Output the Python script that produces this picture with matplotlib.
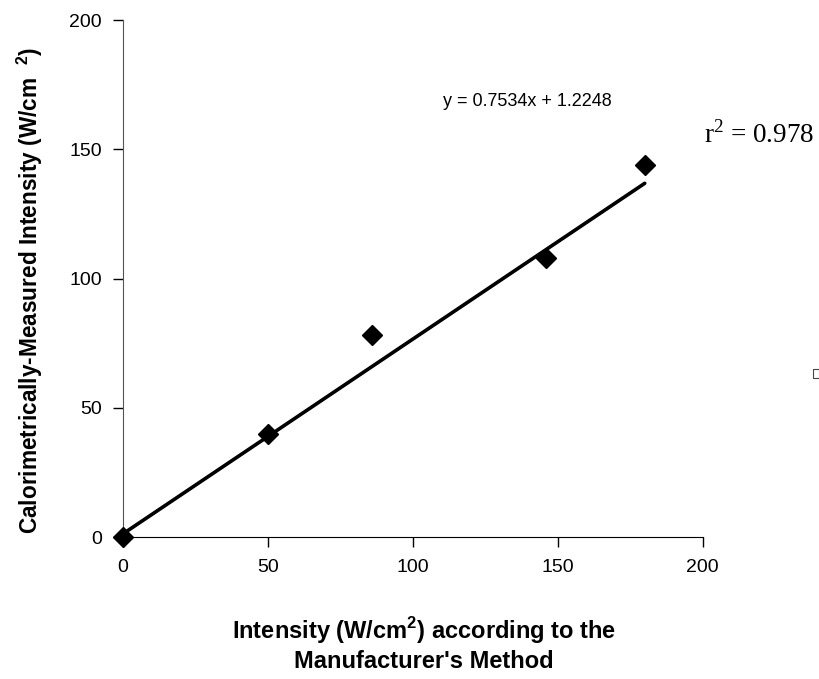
import matplotlib
matplotlib.use("Agg")
import matplotlib.pyplot as plt
import numpy as np
from matplotlib.patches import Rectangle

# data
x_vals = [0, 50, 86, 146, 180]
y_vals = [0, 40, 78, 108, 144]
slope = 0.7534
intercept = 1.2248
x_ticks = [0, 50, 100, 150, 200]
y_ticks = [0, 50, 100, 150, 200]
eq_text = "y = 0.7534x + 1.2248"
r2_text = r"r$^{\mathrm{2}}$ = 0.978"
y_label = r"Calorimetrically-Measured Intensity (W/cm  $^{\mathbf{2}}$)"
x_label_1 = r"Intensity (W/cm$^{\mathbf{2}}$) according to the"
x_label_2 = "Manufacturer's Method"

plt.rcParams['font.family'] = ['Liberation Sans', 'DejaVu Sans']
plt.rcParams['mathtext.fontset'] = 'custom'
plt.rcParams['mathtext.rm'] = 'Liberation Serif'
plt.rcParams['mathtext.bf'] = 'Liberation Sans:bold'

fig = plt.figure(figsize=(8.19, 6.79), dpi=100)
ax = fig.add_axes([0.150, 0.209, 0.708, 0.7615])

xl = np.array([min(x_vals), max(x_vals)])
ax.plot(xl, slope * xl + intercept, color='black', lw=2.6, solid_capstyle='round', zorder=2)
ax.plot(x_vals, y_vals, linestyle='none', marker='D', ms=10.5, color='black', zorder=3, clip_on=False)

ax.set_xlim(0, 200)
ax.set_ylim(0, 200)
ax.set_xticks(x_ticks)
ax.set_yticks(y_ticks)
ax.tick_params(axis='both', labelsize=14, length=7, width=1, direction='out')
ax.tick_params(axis='y', pad=8)
ax.tick_params(axis='x', pad=9)
for s in ['top', 'right']:
    ax.spines[s].set_visible(False)
ax.spines['left'].set_color('#555555')
ax.spines['bottom'].set_color('black')

fig.text(30 / 819, 1 - 290 / 679, y_label, rotation=90, fontsize=16.3, fontweight='bold',
         ha='center', va='center')
fig.text(424 / 819, 1 - 639 / 679, x_label_1, fontsize=17, fontweight='bold', ha='center', va='baseline')
fig.text(424 / 819, 1 - 668 / 679, x_label_2, fontsize=17, fontweight='bold', ha='center', va='baseline')

fig.text(527 / 819, 1 - 102 / 679, eq_text, fontsize=13, ha='center', va='center')
fig.text(704 / 819, 1 - 143 / 679, r2_text, fontsize=19.5, ha='left', va='baseline',
         family=['Liberation Serif'])

fig.patches.append(Rectangle((813 / 819, 1 - 378 / 679), 6 / 819, 9 / 679, transform=fig.transFigure,
                             fill=False, edgecolor='#444444', lw=0.8))

fig.savefig("out.png", dpi=100)
